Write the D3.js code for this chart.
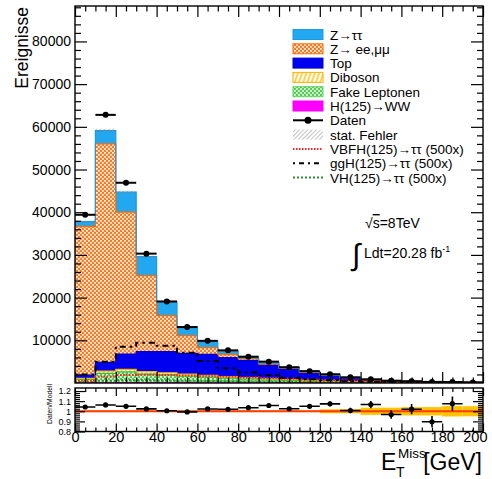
<!DOCTYPE html>
<html>
<head>
<meta charset="utf-8">
<script src="https://cdn.jsdelivr.net/npm/d3@7"></script>
<style>
  html, body { margin: 0; padding: 0; background: #fff; }
  svg { display: block; font-family: "Liberation Sans", Arial, Helvetica, sans-serif; }
</style>
</head>
<body>
<svg id="chart" width="492" height="479"></svg>
<script>
// Missing transverse energy, 10 GeV bins from 0 to 200 GeV
const binLow = [0, 10, 20, 30, 40, 50, 60, 70, 80, 90, 100, 110, 120, 130, 140, 150, 160, 170, 180, 190];
const binWidth = 10;

// Background components (events per bin), stacked bottom to top
const hww     = [20, 60, 90, 90, 80, 70, 60, 50, 40, 35, 30, 25, 20, 15, 12, 10, 8, 6, 5, 4];
const fake    = [900, 2200, 2500, 2000, 1800, 1560, 1330, 1100, 910, 715, 560, 410, 300, 230, 165, 120, 87, 70, 50, 38];
const diboson = [180, 540, 610, 560, 520, 470, 410, 350, 300, 250, 210, 165, 130, 105, 83, 60, 45, 34, 25, 18];
const topQuark= [770, 2050, 3590, 4680, 4930, 4860, 4900, 4430, 3970, 3200, 2500, 1800, 1280, 880, 500, 325, 220, 155, 115, 85];
const zll     = [34830, 51150, 33210, 17800, 8430, 4120, 1600, 790, 400, 250, 150, 100, 80, 40, 30, 25, 20, 15, 10, 7];
const ztautau = [1100, 3100, 4700, 4470, 3240, 2100, 1350, 780, 330, 280, 160, 150, 100, 50, 26, 18, 12, 10, 9, 8];

// MC statistical uncertainty on the summed background
const statErr = [300, 470, 360, 240, 150, 105, 77, 60, 48, 38, 29, 21, 38, 26, 29, 20, 16, 12, 11, 8];

// Observed events
const data = [39400, 62800, 46900, 30300, 19100, 13100, 9870, 7650, 6160, 5000, 3700, 2780, 2050, 1330, 870, 540, 400, 260, 230, 120];

// Signal shapes scaled by 500
const vbfh = [500, 1500, 1900, 1950, 1900, 1750, 1600, 1450, 1300, 1150, 980, 830, 700, 560, 450, 350, 280, 220, 170, 130];
const ggh  = [2000, 5000, 8500, 9400, 8700, 7100, 5150, 3480, 2450, 1870, 1250, 870, 630, 400, 260, 170, 110, 70, 50, 30];
const vh   = [200, 500, 650, 650, 600, 520, 450, 390, 330, 280, 230, 190, 160, 130, 100, 80, 60, 50, 40, 30];

// Axis ticks
const yMainTicks = [10000, 20000, 30000, 40000, 50000, 60000, 70000, 80000];
const xTicks = [0, 20, 40, 60, 80, 100, 120, 140, 160, 180, 200];
const ratioTicks = [0.8, 0.9, 1, 1.1, 1.2];

const svg = d3.select("#chart");

// Panel geometry
const L = 75, R = 483;
const mainTop = 6, mainBot = 383;
const ratTop = 388, ratBot = 431.5;

const x = d3.scaleLinear().domain([0, 200]).range([L, R]);
const y = d3.scaleLinear().domain([0, 88300]).range([mainBot, mainTop]);
const yr = d3.scaleLinear().domain([0.8, 1.23]).range([ratBot, ratTop]);

// ---------- patterns ----------
const defs = svg.append("defs");
function checker(id, bg, dot) {
  const p = defs.append("pattern").attr("id", id).attr("patternUnits", "userSpaceOnUse")
    .attr("width", 4).attr("height", 4);
  p.append("rect").attr("width", 4).attr("height", 4).attr("fill", bg);
  p.append("rect").attr("x", 0).attr("y", 0).attr("width", 1.8).attr("height", 1.8).attr("fill", dot);
  p.append("rect").attr("x", 2).attr("y", 2).attr("width", 1.8).attr("height", 1.8).attr("fill", dot);
}
checker("pZll", "#ff7a22", "#fff3e8");
checker("pFake", "#55cc55", "#e6ffe6");
(function () {
  const p = defs.append("pattern").attr("id", "pDib").attr("patternUnits", "userSpaceOnUse")
    .attr("width", 4).attr("height", 4).attr("patternTransform", "rotate(20)");
  p.append("rect").attr("width", 4).attr("height", 4).attr("fill", "#fff");
  p.append("line").attr("x1", 1).attr("y1", 0).attr("x2", 1).attr("y2", 4)
    .attr("stroke", "#ffc000").attr("stroke-width", 1.4);
})();
(function () {
  const p = defs.append("pattern").attr("id", "pStat").attr("patternUnits", "userSpaceOnUse")
    .attr("width", 3).attr("height", 3).attr("patternTransform", "rotate(45)");
  p.append("line").attr("x1", 0).attr("y1", 0).attr("x2", 0).attr("y2", 3)
    .attr("stroke", "#777").attr("stroke-width", 0.9);
})();
defs.append("clipPath").attr("id", "clipMain").append("rect")
  .attr("x", L).attr("y", mainTop).attr("width", R - L).attr("height", mainBot - mainTop);
defs.append("clipPath").attr("id", "clipRat").append("rect")
  .attr("x", L).attr("y", ratTop).attr("width", R - L).attr("height", ratBot - ratTop);

// ---------- stacked backgrounds ----------
const comps = [
  { name: "H(125)→WW", vals: hww, fill: "#ff00ff", line: "#ff00ff" },
  { name: "Fake Leptonen", vals: fake, fill: "url(#pFake)", line: "#33bb33" },
  { name: "Diboson", vals: diboson, fill: "url(#pDib)", line: "#ffb000" },
  { name: "Top", vals: topQuark, fill: "#0000f0", line: "#0000c8" },
  { name: "Z→ ee,μμ", vals: zll, fill: "url(#pZll)", line: "#ff6a00" },
  { name: "Z→ττ", vals: ztautau, fill: "#22a8f0", line: "#1e9be0" }
];
const cum = binLow.map(() => 0);
comps.forEach(c => {
  c.lo = cum.slice();
  c.vals.forEach((v, i) => { cum[i] += v; });
  c.hi = cum.slice();
});
const total = cum.slice();

// step-shaped points along bin edges
function stepPts(lo, hi) {
  const pts = [];
  binLow.forEach((b, i) => {
    pts.push({ x: b, lo: lo[i], hi: hi[i] });
    pts.push({ x: b + binWidth, lo: lo[i], hi: hi[i] });
  });
  return pts;
}
const gMain = svg.append("g").attr("clip-path", "url(#clipMain)");
const area = d3.area().x(d => x(d.x)).y0(d => y(d.lo)).y1(d => y(d.hi));
const topLine = d3.line().x(d => x(d.x)).y(d => y(d.hi));
comps.forEach(c => {
  gMain.append("path").attr("d", area(stepPts(c.lo, c.hi))).attr("fill", c.fill).attr("stroke", "none");
});
comps.forEach(c => {
  gMain.append("path").attr("d", topLine(stepPts(c.lo, c.hi))).attr("fill", "none")
    .attr("stroke", c.line).attr("stroke-width", 1.2);
});

// MC statistical error band
gMain.selectAll("rect.stat").data(binLow).join("rect")
  .attr("x", d => x(d)).attr("width", d => x(d + binWidth) - x(d))
  .attr("y", (d, i) => y(total[i] + statErr[i]))
  .attr("height", (d, i) => Math.max(1.5, y(total[i] - statErr[i]) - y(total[i] + statErr[i])))
  .attr("fill", "url(#pStat)");

// Signal overlays (step lines)
function stepLine(vals) {
  const pts = [];
  binLow.forEach((b, i) => { pts.push([x(b), y(vals[i])]); pts.push([x(b + binWidth), y(vals[i])]); });
  return d3.line()(pts);
}
gMain.append("path").attr("d", stepLine(vh)).attr("fill", "none")
  .attr("stroke", "#2e8b2e").attr("stroke-width", 2).attr("stroke-dasharray", "2,2");
gMain.append("path").attr("d", stepLine(vbfh)).attr("fill", "none")
  .attr("stroke", "#ff2020").attr("stroke-width", 2).attr("stroke-dasharray", "1.5,1.5");
gMain.append("path").attr("d", stepLine(ggh)).attr("fill", "none")
  .attr("stroke", "#000").attr("stroke-width", 2).attr("stroke-dasharray", "2.5,4,6,4");

// Data points
const gData = gMain.append("g");
binLow.forEach((b, i) => {
  const cx = x(b + binWidth / 2), cy = y(data[i]);
  const e = Math.sqrt(data[i]);
  gData.append("line").attr("x1", x(b)).attr("x2", x(b + binWidth)).attr("y1", cy).attr("y2", cy)
    .attr("stroke", "#000").attr("stroke-width", 2);
  gData.append("line").attr("x1", cx).attr("x2", cx).attr("y1", y(data[i] + e)).attr("y2", y(data[i] - e))
    .attr("stroke", "#000").attr("stroke-width", 2);
  gData.append("circle").attr("cx", cx).attr("cy", cy).attr("r", 3).attr("fill", "#000");
});

// ---------- ratio panel ----------
const gRat = svg.append("g").attr("clip-path", "url(#clipRat)");
binLow.forEach((b, i) => {
  const rel = statErr[i] / total[i];
  gRat.append("rect").attr("x", x(b)).attr("width", x(b + binWidth) - x(b))
    .attr("y", yr(1 + rel)).attr("height", yr(1 - rel) - yr(1 + rel))
    .attr("fill", "#ffc400");
});
gRat.append("line").attr("x1", x(0)).attr("x2", x(200)).attr("y1", yr(1)).attr("y2", yr(1))
  .attr("stroke", "#ff3a00").attr("stroke-width", 2);
binLow.forEach((b, i) => {
  const r = data[i] / total[i];
  const e = Math.sqrt(data[i]) / total[i];
  const cx = x(b + binWidth / 2), cy = yr(r);
  gRat.append("line").attr("x1", x(b)).attr("x2", x(b + binWidth)).attr("y1", cy).attr("y2", cy)
    .attr("stroke", "#000").attr("stroke-width", 1.6);
  gRat.append("line").attr("x1", cx).attr("x2", cx).attr("y1", yr(r + e)).attr("y2", yr(r - e))
    .attr("stroke", "#000").attr("stroke-width", 1.6);
  gRat.append("circle").attr("cx", cx).attr("cy", cy).attr("r", 2.6).attr("fill", "#000");
});

// ---------- frames and axes ----------
function frame(y0, y1) {
  svg.append("rect").attr("x", L).attr("y", y0).attr("width", R - L).attr("height", y1 - y0)
    .attr("fill", "none").attr("stroke", "#000").attr("stroke-width", 1.4);
}
frame(mainTop, mainBot);
frame(ratTop, ratBot);

function styleAxis(g) {
  g.select(".domain").remove();
  g.selectAll(".tick line").attr("stroke", "#000").attr("stroke-width", 1.2);
}
const xMinor = d3.range(0, 201, 5).filter(v => v % 20 !== 0);
const yMinor = d3.range(0, 88001, 2000).filter(v => v % 10000 !== 0);
const rMinor = d3.range(0.8, 1.2001, 0.02).filter(v => Math.abs(v * 10 - Math.round(v * 10)) > 1e-6);

// main panel y axis (left labels, ticks on both sides)
svg.append("g").attr("transform", `translate(${L},0)`)
  .call(d3.axisLeft(y).tickValues(yMainTicks).tickSize(-12).tickPadding(4).tickFormat(d3.format("d")))
  .call(styleAxis)
  .call(g => g.selectAll("text").attr("font-size", 14).attr("fill", "#000")
    .attr("font-family", "Liberation Sans, Arial, sans-serif"));
svg.append("g").attr("transform", `translate(${L},0)`)
  .call(d3.axisLeft(y).tickValues(yMinor).tickSize(-6).tickFormat("")).call(styleAxis);
svg.append("g").attr("transform", `translate(${R},0)`)
  .call(d3.axisRight(y).tickValues(yMainTicks).tickSize(-12).tickFormat("")).call(styleAxis);
svg.append("g").attr("transform", `translate(${R},0)`)
  .call(d3.axisRight(y).tickValues(yMinor).tickSize(-6).tickFormat("")).call(styleAxis);

// main panel x ticks (top and bottom, no labels)
[[mainBot, d3.axisBottom], [mainTop, d3.axisTop]].forEach(([yy, ax]) => {
  svg.append("g").attr("transform", `translate(0,${yy})`)
    .call(ax(x).tickValues(xTicks).tickSize(-11).tickFormat("")).call(styleAxis);
  svg.append("g").attr("transform", `translate(0,${yy})`)
    .call(ax(x).tickValues(xMinor).tickSize(-5.5).tickFormat("")).call(styleAxis);
});

// ratio panel x axis; the last label is pulled inside the canvas
svg.append("g").attr("transform", `translate(0,${ratBot})`)
  .call(d3.axisBottom(x).tickValues(xTicks).tickSize(-8).tickPadding(0).tickFormat(d3.format("d")))
  .call(styleAxis)
  .call(g => g.selectAll("text").attr("font-size", 14.5).attr("fill", "#000")
    .attr("font-family", "Liberation Sans, Arial, sans-serif"))
  .call(g => g.selectAll(".tick").filter(d => d === 200).select("text").attr("text-anchor", "end").attr("dx", 4));
svg.append("g").attr("transform", `translate(0,${ratBot})`)
  .call(d3.axisBottom(x).tickValues(xMinor).tickSize(-4).tickFormat("")).call(styleAxis);
svg.append("g").attr("transform", `translate(0,${ratTop})`)
  .call(d3.axisTop(x).tickValues(xTicks).tickSize(-8).tickFormat("")).call(styleAxis);
svg.append("g").attr("transform", `translate(0,${ratTop})`)
  .call(d3.axisTop(x).tickValues(xMinor).tickSize(-4).tickFormat("")).call(styleAxis);

// ratio panel y axis
svg.append("g").attr("transform", `translate(${L},0)`)
  .call(d3.axisLeft(yr).tickValues(ratioTicks).tickSize(-10).tickPadding(4).tickFormat(d => String(+d.toFixed(1))))
  .call(styleAxis)
  .call(g => g.selectAll("text").attr("font-size", 9).attr("fill", "#000")
    .attr("font-family", "Liberation Sans, Arial, sans-serif"));
svg.append("g").attr("transform", `translate(${L},0)`)
  .call(d3.axisLeft(yr).tickValues(rMinor).tickSize(-5).tickFormat("")).call(styleAxis);
svg.append("g").attr("transform", `translate(${R},0)`)
  .call(d3.axisRight(yr).tickValues(ratioTicks).tickSize(-10).tickFormat("")).call(styleAxis);
svg.append("g").attr("transform", `translate(${R},0)`)
  .call(d3.axisRight(yr).tickValues(rMinor).tickSize(-5).tickFormat("")).call(styleAxis);

// ---------- axis titles ----------
svg.append("text").attr("transform", "translate(28,7) rotate(-90)")
  .attr("text-anchor", "end").attr("font-size", 17.5).text("Ereignisse");
svg.append("text").attr("transform", "translate(52,404) rotate(-90)")
  .attr("text-anchor", "middle").attr("font-size", 6.8).text("Daten/Modell");
svg.append("text").attr("x", 381).attr("y", 470).attr("font-size", 23).text("E");
svg.append("text").attr("x", 396).attr("y", 477).attr("font-size", 14).text("T");
svg.append("text").attr("x", 398).attr("y", 457.5).attr("font-size", 13.5).text("Miss");
svg.append("text").attr("x", 482).attr("y", 470).attr("text-anchor", "end").attr("font-size", 23).text("[GeV]");

// ---------- energy and luminosity ----------
const rs = svg.append("text").attr("x", 365).attr("y", 228).attr("font-size", 14);
rs.append("tspan").text("√");
rs.append("tspan").attr("text-decoration", "overline").text("s");
rs.append("tspan").text("=8TeV");
svg.append("text").attr("x", 352).attr("y", 265).attr("font-size", 30).attr("font-weight", 300).text("∫");
const lum = svg.append("text").attr("x", 364).attr("y", 258).attr("font-size", 14);
lum.append("tspan").text("Ldt=20.28 fb");
lum.append("tspan").attr("font-size", 9).attr("dy", -6).text("-1");

// ---------- legend ----------
const legendItems = [
  { label: "Z→ττ", type: "box", fill: "#22a8f0", stroke: "#1e9be0" },
  { label: "Z→ ee,μμ", type: "box", fill: "url(#pZll)", stroke: "#ff6a00" },
  { label: "Top", type: "box", fill: "#0000f0", stroke: "#0000c8" },
  { label: "Diboson", type: "box", fill: "url(#pDib)", stroke: "#ffb000" },
  { label: "Fake Leptonen", type: "box", fill: "url(#pFake)", stroke: "#5fd35f" },
  { label: "H(125)→WW", type: "box", fill: "#ff00ff", stroke: "#ff00ff" },
  { label: "Daten", type: "data" },
  { label: "stat. Fehler", type: "box", fill: "url(#pStat)", stroke: "none" },
  { label: "VBFH(125)→ττ (500x)", type: "line", stroke: "#ff2020", dash: "1.5,1.5" },
  { label: "ggH(125)→ττ (500x)", type: "line", stroke: "#000", dash: "2,4,5,4" },
  { label: "VH(125)→ττ (500x)", type: "line", stroke: "#2e8b2e", dash: "2,2" }
];
const lg = svg.append("g");
const lx = 293, lw = 30, ly0 = 34.5, ldy = 14.3;
legendItems.forEach((it, i) => {
  const cy = ly0 + i * ldy;
  if (it.type === "box") {
    lg.append("rect").attr("x", lx).attr("y", cy - 5).attr("width", lw).attr("height", 10)
      .attr("fill", it.fill).attr("stroke", it.stroke).attr("stroke-width", 1);
  } else if (it.type === "line") {
    lg.append("line").attr("x1", lx).attr("x2", lx + lw).attr("y1", cy).attr("y2", cy)
      .attr("stroke", it.stroke).attr("stroke-width", 2).attr("stroke-dasharray", it.dash);
  } else {
    lg.append("line").attr("x1", lx).attr("x2", lx + lw).attr("y1", cy).attr("y2", cy)
      .attr("stroke", "#000").attr("stroke-width", 2);
    lg.append("circle").attr("cx", lx + lw / 2).attr("cy", cy).attr("r", 3.5).attr("fill", "#000");
  }
  lg.append("text").attr("x", 330).attr("y", cy + 5).attr("font-size", 13.5).text(it.label);
});
</script>
</body>
</html>
